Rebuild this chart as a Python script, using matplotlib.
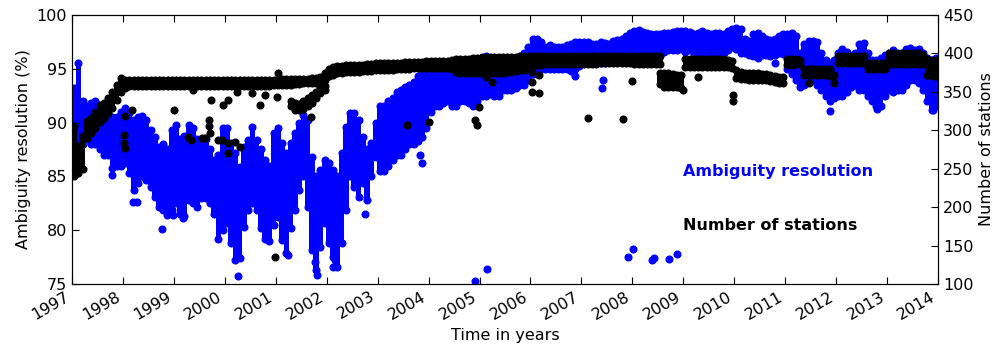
import numpy as np
import matplotlib
matplotlib.use("Agg")
from matplotlib import pyplot as plt

# monthly envelopes, Jan 1997 .. Dec 2013 (one row per year)
amb_lo = [
    87, 87.5, 88, 88.5, 88, 88, 87.5, 87, 87, 85.8, 86, 86,
    86.2, 85.3, 83.7, 84.4, 85, 84.7, 84, 83.1, 82.2, 81.9, 81.6, 81.9,
    82.5, 81.5, 81.3, 82.8, 82.5, 82.2, 83, 83, 82.5, 81.5, 79.2, 80,
    80.7, 78.8, 77.2, 77.4, 80.3, 81.9, 82.5, 81.9, 80.2, 79.2, 79, 80.5,
    81.2, 79.1, 77.9, 80.2, 81.9, 83.7, 85, 82.2, 78.2, 76.3, 78.4, 80.7,
    78.8, 77.5, 76.6, 78.8, 81.9, 85, 84, 83.1, 84.4, 82.8, 85, 86.8,
    85.5, 85.5, 86, 86.5, 87, 87, 87.5, 88, 88, 88.3, 88.7, 89.5,
    91, 91.5, 91.5, 91.8, 92, 91.5, 91.5, 92, 92, 91.8, 91.5, 92,
    92.5, 92.5, 92.7, 92.5, 92.5, 93, 93, 93, 93.2, 93.5, 93.5, 94,
    94.5, 94.5, 95, 95, 95, 95, 95, 95, 95, 94.8, 95, 95.3,
    95.5, 95.5, 95.5, 95.5, 95.5, 95.5, 95.6, 95.7, 95.7, 95.8, 96, 96.2,
    96.3, 96.5, 96.5, 96.5, 96.6, 96.6, 96.5, 96.6, 96.7, 96.7, 96.7, 96.8,
    96.6, 96.7, 96.5, 96.5, 96.6, 96.5, 96.4, 96.6, 96.5, 96.5, 96.7, 97,
    96.8, 96.5, 96.5, 96.3, 96.2, 96, 96.3, 96.3, 96.2, 96.3, 96.5, 96.4,
    95, 94.5, 94, 93.3, 93.5, 94, 94, 93.5, 93, 92.5, 92, 92.3,
    92.5, 92.5, 92.8, 93.3, 93.5, 93, 93, 92.5, 92, 91.5, 91.5, 92.5,
    93, 92.8, 93, 93, 93.5, 94, 94, 93.7, 93, 92, 91.2, 91.5,
]
amb_hi = [
    93.2, 95.5, 92, 91.5, 91.8, 92, 91.5, 91.2, 90.5, 90.5, 90.5, 91,
    91.4, 90.9, 90.2, 90.5, 90.6, 90.2, 89.3, 88.7, 87.7, 88, 87.5, 89.3,
    89.8, 88.5, 88.8, 89.8, 89.5, 88.5, 88, 88.5, 87.5, 86.5, 87, 89.5,
    89.5, 88.1, 87.2, 85.9, 87.7, 88.4, 89.6, 88.4, 87.5, 86.5, 86, 89,
    89.5, 88.1, 87.2, 88.1, 89, 90, 90.7, 90.2, 86.8, 85, 85.6, 86.5,
    86.2, 85.6, 85, 87.2, 89.6, 90.9, 90.9, 90.2, 88.7, 87.5, 88.1, 90,
    91.5, 91.5, 92, 92.3, 92.8, 93, 93.3, 93.5, 93.8, 94.3, 94.6, 95,
    95.2, 95, 95, 95, 95, 95, 95, 95, 95.2, 95.3, 95.5, 95.5,
    96, 96.2, 95.8, 96, 95.8, 96, 96, 96, 96, 96.2, 96.5, 97,
    97.8, 97.8, 97.5, 97, 97.2, 97, 97, 97, 97.2, 97.3, 97.5, 97.5,
    97.5, 97.5, 97.3, 97.3, 97.5, 97.4, 97.3, 97.6, 97.7, 97.8, 98, 98.3,
    98.5, 98.6, 98.4, 98.3, 98.2, 98.2, 98.2, 98.3, 98.3, 98.4, 98.5, 98.5,
    98.5, 98.4, 98.2, 98.3, 98.5, 98.3, 98.2, 98.3, 98.3, 98.2, 98.5, 98.7,
    98.8, 98.7, 97.8, 97.6, 98.2, 98.3, 98, 97.8, 97.7, 97.8, 98, 98.2,
    98.2, 98.3, 98, 96.5, 97.3, 97.6, 97.6, 97.5, 96.5, 95.8, 95.5, 95.8,
    96.5, 96.8, 96.6, 96.2, 96.5, 97.3, 97.4, 96.5, 95.8, 95.8, 96, 96.3,
    96.5, 96.7, 96.3, 96.5, 96.8, 96.9, 96.7, 96.8, 96.5, 96, 95.8, 96,
]

sta_lo = [
    240, 245, 250, 290, 296, 303, 311, 316, 322, 329, 339, 350,
    355, 357, 357, 357, 357, 357, 357, 357, 357, 357, 357, 357,
    357, 357, 357, 357, 357, 357, 357, 357, 357, 357, 357, 357,
    357, 357, 357, 358, 358, 358, 358, 358, 358, 358, 358, 359,
    359, 359, 359, 359, 360, 360, 361, 361, 362, 362, 363, 366,
    370, 372, 374, 375, 376, 376, 376, 376, 377, 377, 377, 378,
    378, 378, 379, 379, 380, 380, 380, 380, 381, 381, 381, 381,
    381, 381, 381, 381, 381, 380, 376, 375, 375, 375, 375, 374,
    374, 374, 374, 375, 375, 375, 376, 376, 377, 378, 378, 380,
    385, 385, 385, 386, 386, 386, 386, 386, 386, 386, 386, 386,
    386, 386, 386, 386, 387, 387, 387, 387, 387, 387, 387, 387,
    386, 386, 386, 386, 386, 386, 386, 356, 356, 356, 356, 355,
    382, 382, 382, 382, 382, 382, 382, 382, 382, 382, 382, 381,
    368, 367, 367, 366, 366, 366, 365, 365, 364, 363, 362, 362,
    385, 385, 386, 386, 372, 372, 372, 372, 372, 372, 371, 362,
    387, 388, 388, 388, 388, 388, 388, 380, 380, 380, 380, 380,
    386, 386, 386, 386, 386, 386, 386, 386, 386, 372, 370, 370,
]
sta_hi = [
    305, 280, 292, 312, 316, 324, 333, 336, 342, 350, 359, 368,
    365, 365, 365, 365, 365, 365, 365, 365, 365, 365, 365, 365,
    365, 365, 365, 365, 365, 365, 365, 365, 365, 365, 365, 365,
    365, 365, 365, 365, 365, 366, 366, 366, 366, 366, 366, 366,
    367, 367, 367, 367, 367, 367, 367, 367, 368, 368, 369, 375,
    380, 382, 383, 384, 385, 385, 385, 385, 385, 386, 386, 387,
    387, 387, 388, 388, 388, 388, 389, 389, 389, 389, 389, 390,
    390, 390, 390, 390, 390, 391, 393, 393, 393, 393, 394, 394,
    395, 395, 395, 395, 395, 395, 395, 395, 395, 396, 396, 396,
    397, 397, 397, 397, 397, 397, 397, 397, 397, 397, 397, 397,
    397, 397, 397, 397, 397, 397, 397, 397, 397, 397, 397, 397,
    397, 397, 397, 397, 397, 397, 396, 374, 374, 373, 372, 372,
    393, 393, 393, 393, 393, 393, 393, 393, 393, 393, 392, 390,
    378, 376, 375, 375, 374, 374, 373, 373, 372, 370, 369, 369,
    393, 393, 393, 392, 380, 380, 380, 380, 380, 380, 380, 372,
    397, 397, 397, 397, 397, 397, 396, 388, 388, 388, 388, 388,
    400, 400, 400, 400, 400, 400, 400, 400, 398, 393, 392, 392,
]

# second, lower branch of the station count (2001 and mid 2008)
sta2_lo = [np.nan] * 204
sta2_hi = [np.nan] * 204
branch_2001_lo = [332, 327, 326, 328, 332, 335, 342, 348, 352]
branch_2001_hi = [338, 336, 334, 338, 342, 346, 350, 356, 358]
sta2_lo[51:60] = branch_2001_lo
sta2_hi[51:60] = branch_2001_hi
sta2_lo[138] = 360
sta2_hi[138] = 375

# isolated days
amb_out_t = [1997.79, 1998.20, 1998.28, 1998.77, 1998.86, 1998.98, 1999.18,
             2000.26, 2001.24, 2001.77, 2001.81, 2002.12, 2002.16, 2002.75,
             2003.84, 2003.88, 2004.91, 2005.15, 2006.88, 2007.40, 2007.42,
             2007.915, 2008.01, 2008.386, 2008.425, 2008.72, 2008.876,
             2010.80, 2011.88, 2012.80, 2013.90]
amb_out_v = [85.1, 82.6, 82.6, 80.1, 81.4, 81.4, 81.1,
             75.7, 77.7, 77.0, 75.8, 76.6, 77.2, 81.5,
             87.0, 86.2, 75.3, 76.4, 94.3, 93.2, 94.0,
             77.5, 78.3, 77.2, 77.4, 77.3, 77.8,
             95.5, 91.1, 91.3, 91.2]

sta_out_t = [1998.03, 1998.03, 1998.05, 1998.04, 1998.18, 1999.00, 1999.28,
             1999.33, 1999.38, 1999.55, 1999.62, 1999.68, 1999.68, 1999.70,
             1999.72, 1999.87, 1999.94, 1999.96, 2000.06, 2000.06, 2000.06,
             2000.20, 2000.30, 2000.24, 2000.53, 2000.69, 2000.79, 2001.02,
             2000.98, 2001.04, 2001.70, 2003.58, 2004.01, 2004.91, 2004.95,
             2004.99, 2005.13, 2005.24, 2006.03, 2006.03, 2006.03, 2006.17,
             2006.17, 2007.13, 2007.82, 2007.99, 2008.99, 2009.29, 2009.98,
             2009.98, 2011.47]
sta_out_v = [294, 283, 277, 319, 327, 326, 291,
             288, 352, 290, 290, 305, 313, 296,
             339, 287, 287, 333, 339, 283, 270,
             285, 278, 350, 349, 333, 346, 343,
             135, 375, 317, 307, 311, 313, 307,
             330, 369, 363, 376, 363, 350, 372,
             349, 316, 315, 364, 352, 369, 346,
             338, 361]

years = list(range(1997, 2015))

t = 1997 + (np.arange(len(amb_lo)) + 0.5) / 12.0

fig = plt.figure(figsize=(10, 3.54), dpi=100)
ax = fig.add_axes([0.072, 0.1977, 0.866, 0.76])
ax2 = ax.twinx()

ms = 4.8


def band(axis, x, lo, hi, color):
    # fill each month between its lowest and highest daily value,
    # with a dot on both ends so the edges stay round
    lo = np.asarray(lo, dtype=float)
    hi = np.asarray(hi, dtype=float)
    axis.bar(x, hi - lo, bottom=lo, width=0.11, color=color, linewidth=0)
    axis.plot(x, lo, "o", color=color, mec=color, ms=ms, ls="none")
    axis.plot(x, hi, "o", color=color, mec=color, ms=ms, ls="none")


band(ax, t, amb_lo, amb_hi, "blue")
ax.plot(amb_out_t, amb_out_v, "o", color="blue", mec="blue", ms=ms)

band(ax2, t, sta_lo, sta_hi, "black")
band(ax2, t, sta2_lo, sta2_hi, "black")
ax2.plot(sta_out_t, sta_out_v, "o", color="black", mec="black", ms=ms)

ax.set_xlim(1997, 2014)
ax.set_ylim(75, 100)
ax2.set_ylim(100, 450)
ax.set_xticks(years)
ax.set_xticklabels([str(y) for y in years], rotation=30, ha="right")
ax.set_yticks(range(75, 101, 5))
ax2.set_yticks(range(100, 451, 50))

ax.tick_params(direction="in", length=5, labelsize=11.5, top=True, right=False)
ax2.tick_params(direction="in", length=5, labelsize=11.5)

ax.set_xlabel("Time in years", fontsize=11.5)
ax.set_ylabel("Ambiguity resolution (%)", fontsize=11.5)
ax2.set_ylabel("Number of stations", fontsize=11.5)

ax.text(0.7055, 0.42, "Ambiguity resolution", transform=ax.transAxes,
        color="blue", fontweight="bold", fontsize=11.5, va="center")
ax.text(0.7055, 0.219, "Number of stations", transform=ax.transAxes,
        color="black", fontweight="bold", fontsize=11.5, va="center")

fig.savefig("out.png", dpi=100)
